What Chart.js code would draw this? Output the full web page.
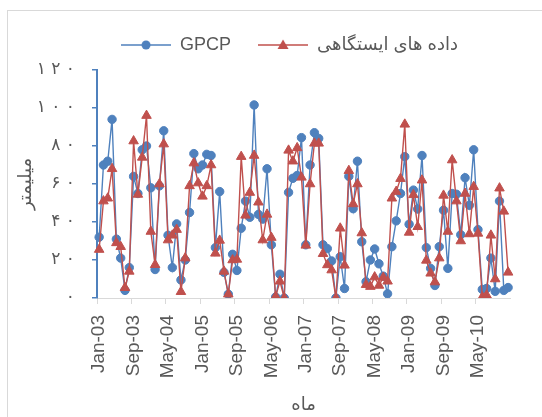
<!DOCTYPE html>
<html>
<head>
<meta charset="utf-8">
<script src="https://cdn.jsdelivr.net/npm/chart.js@4"></script>
<style>
  html, body { margin: 0; padding: 0; background: #ffffff; }
  #c { display: block; }
</style>
</head>
<body>
<canvas id="c" width="542" height="417"></canvas>
<script>
// Monthly categories Jan-03 … Dec-10
const monthNames = ['Jan','Feb','Mar','Apr','May','Jun','Jul','Aug','Sep','Oct','Nov','Dec'];
const years = ['03','04','05','06','07','08','09','10'];
const categories = [];
years.forEach(y => monthNames.forEach(m => categories.push(m + '-' + y)));

// Monthly precipitation (mm), GPCP
const gpcp = [
  32, 70, 72, 94, 31, 21, 4, 16, 64, 55, 78, 80,
  58, 15, 59, 88, 33, 16, 39, 9.5, 20, 45, 76, 68,
  70, 75.6, 75, 26.5, 56, 13.5, 2, 23, 14.5, 36.7, 51, 42.5,
  101.6, 44, 41.5, 68, 28, 0.5, 12.5, 0, 55.6, 63, 64.5, 84.4,
  28, 70, 87, 84, 28, 26, 19.5, 0, 21.7, 5, 64, 47,
  72, 29.6, 8.6, 20, 25.8, 18, 11.5, 2.2, 27, 40.6, 55, 74.4,
  38.8, 56.8, 46.8, 75, 26.5, 15.6, 6.6, 27, 46.2, 15.6, 55, 54.6,
  33.3, 63.3, 48.8, 78, 36, 4.5, 5, 21, 3.5, 51, 4, 5.5
];

// Monthly precipitation (mm), station data
const station = [
  25.5, 51, 52.5, 68, 29, 27, 5.4, 14, 82.6, 54.5, 74, 96,
  35, 17.5, 60, 81, 30.5, 33, 36, 3.3, 21, 59, 71, 60.5,
  53.5, 59, 70, 23.5, 30.3, 14, 2, 20, 20.3, 74.4, 43.5, 55.5,
  75, 50.4, 30.5, 44, 31.8, 0.8, 8.8, 0, 77.7, 72, 79, 63.5,
  27.7, 60, 81.4, 81.4, 23.3, 17.4, 14.7, 0, 36.7, 17.2, 67, 49.5,
  60, 34.2, 7, 6, 11, 6.6, 10.8, 8.8, 52.5, 56, 62.8, 91.4,
  34.5, 54.3, 37.5, 62, 19.8, 13, 8.4, 21, 54, 35, 72.6, 51,
  30, 55, 33.7, 58.6, 34, 0.5, 1.5, 33, 10, 57.8, 45.6, 13.5
];

// Y tick labels in Persian digits (0 … 120 step 20)
const yTickLabels = ['۰', '۲ ۰', '۴ ۰', '۶ ۰', '۸ ۰', '۱ ۰ ۰', '۱ ۲ ۰'];

const seriesNames = ['GPCP', 'داده های ایستگاهی'];
const BLUE = '#4F81BD';
const RED = '#C0504D';
const TEXT = '#595959';

// Legend icons: short line with the series marker in the middle
function makeIcon(color, shape) {
  const cv = document.createElement('canvas');
  cv.width = 50; cv.height = 14;
  const g = cv.getContext('2d');
  g.strokeStyle = color; g.lineWidth = 1.5;
  g.beginPath(); g.moveTo(0, 7); g.lineTo(50, 7); g.stroke();
  g.fillStyle = color;
  g.beginPath();
  if (shape === 'circle') {
    g.arc(25, 7, 4.5, 0, Math.PI * 2);
  } else {
    g.moveTo(25, 1.5); g.lineTo(30.5, 11); g.lineTo(19.5, 11); g.closePath();
  }
  g.fill();
  return cv;
}
const legendIcons = [makeIcon(BLUE, 'circle'), makeIcon(RED, 'triangle')];

const framePlugin = {
  id: 'frame',
  beforeInit(chart) {
    const lg = chart.legend;
    const fit = lg.fit;
    lg.fit = function () { fit.call(this); this.height += 6; };
  },
  afterLayout(chart) {
    chart.legend.left += 22;
    chart.legend.right += 22;
  },
  beforeDraw(chart) {
    const ctx = chart.ctx;
    ctx.save();
    ctx.fillStyle = '#ffffff';
    ctx.fillRect(0, 0, chart.width, chart.height);
    ctx.strokeStyle = '#d9d9d9';
    ctx.lineWidth = 1;
    ctx.strokeRect(7.5, 10.5, 600, 500);
    ctx.restore();
  }
};

new Chart(document.getElementById('c'), {
  type: 'line',
  data: {
    labels: categories,
    datasets: [
      {
        label: seriesNames[0],
        data: gpcp,
        borderColor: BLUE,
        backgroundColor: BLUE,
        borderWidth: 1.4,
        pointStyle: 'circle',
        pointRadius: 4.2,
        pointBorderWidth: 1,
        tension: 0,
        order: 1
      },
      {
        label: seriesNames[1],
        data: station,
        borderColor: RED,
        backgroundColor: RED,
        borderWidth: 1.4,
        pointStyle: 'triangle',
        pointRadius: 5.5,
        pointBorderWidth: 1,
        tension: 0,
        order: 0
      }
    ]
  },
  options: {
    responsive: false,
    animation: false,
    layout: { padding: { left: 10, right: 17, top: 9, bottom: 0 } },
    plugins: {
      legend: {
        position: 'top',
        labels: {
          usePointStyle: true,
          pointStyleWidth: 50,
          padding: 27,
          color: TEXT,
          font: { family: "'Liberation Sans', 'DejaVu Sans', sans-serif", size: 18 },
          generateLabels(chart) {
            const items = Chart.defaults.plugins.legend.labels.generateLabels(chart);
            items.sort((a, b) => a.datasetIndex - b.datasetIndex);
            items.forEach(it => { it.pointStyle = legendIcons[it.datasetIndex]; });
            return items;
          }
        }
      },
      tooltip: { enabled: false }
    },
    scales: {
      x: {
        type: 'category',
        offset: true,
        grid: {
          offset: true,
          drawOnChartArea: false,
          drawTicks: true,
          tickLength: 6,
          lineWidth: 1,
          color: c => (c.index % 8 === 0 ? '#d9d9d9' : 'rgba(0,0,0,0)')
        },
        border: { color: '#d9d9d9', width: 1 },
        ticks: {
          autoSkip: false,
          minRotation: 90,
          maxRotation: 90,
          padding: 11,
          color: TEXT,
          font: { family: "'Liberation Sans', sans-serif", size: 19 },
          callback: (v, i) => (i % 8 === 0 ? categories[i] : '')
        },
        title: {
          display: true,
          text: 'ماه',
          color: TEXT,
          font: { family: "'DejaVu Sans', sans-serif", size: 18 },
          padding: { top: 0, bottom: 1 }
        },
        afterFit: s => { s.height = 119; }
      },
      y: {
        min: 0,
        max: 120,
        ticks: {
          stepSize: 20,
          padding: 17,
          color: TEXT,
          font: { family: "'DejaVu Sans', sans-serif", size: 17 },
          callback: v => yTickLabels[Math.round(v / 20)]
        },
        grid: {
          drawOnChartArea: false,
          drawTicks: true,
          tickLength: 5,
          lineWidth: 1.5,
          color: BLUE
        },
        border: { color: BLUE, width: 2 },
        title: {
          display: true,
          text: 'میلیمتر',
          color: TEXT,
          font: { family: "'DejaVu Sans', sans-serif", size: 18 },
          padding: { top: 6, bottom: 0 }
        },
        afterFit: s => { s.width = 87; }
      }
    }
  },
  plugins: [framePlugin]
});
</script>
</body>
</html>
